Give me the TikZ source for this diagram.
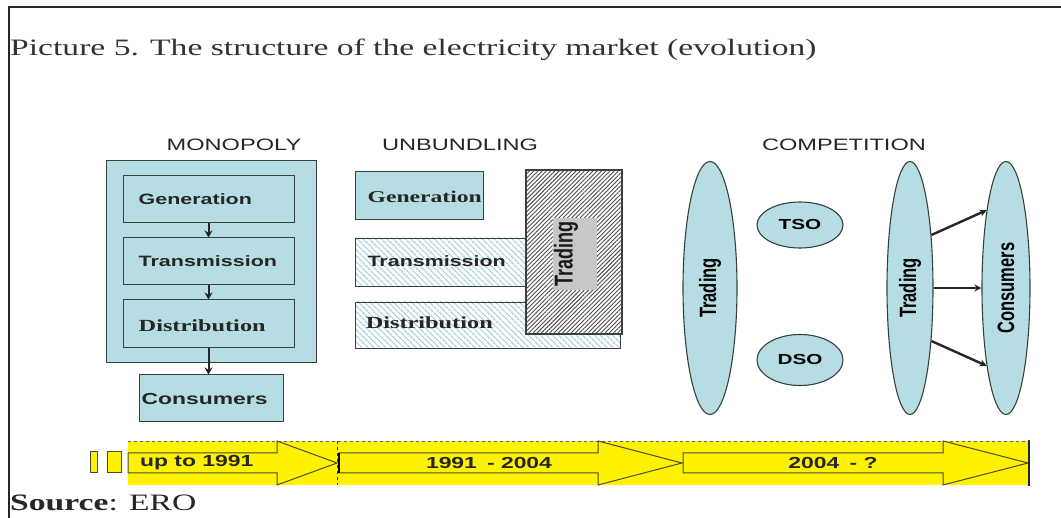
\documentclass[tikz,border=0pt]{standalone}
\usepackage{fontspec}
\setmainfont{Liberation Serif}
\newfontfamily\lsans{Liberation Sans}
\usetikzlibrary{shapes.geometric,arrows.meta,patterns.meta}
\newcommand\hs[1]{\scalebox{1.43}[1]{#1}}
\newcommand\fsz[1]{\fontsize{#1}{#1}\selectfont}
\definecolor{boxblue}{RGB}{182,221,227}
\definecolor{edgec}{RGB}{55,65,65}
\definecolor{hatchblue}{RGB}{165,208,220}
\definecolor{tline}{RGB}{75,75,45}
\tikzset{
  bx/.style={draw=edgec, line width=1pt, fill=boxblue, inner sep=0pt},
  hbx/.style={draw=edgec, line width=0.8pt, inner sep=0pt, preaction={fill=white},
     pattern={Lines[angle=-45,distance=4pt,line width=1.3pt]}, pattern color=hatchblue},
  tbx/.style={draw=edgec, line width=1.2pt, inner sep=0pt, preaction={fill=white},
     pattern={Lines[angle=45,distance=3pt,line width=0.9pt]}, pattern color=black!70},
  ell/.style={ellipse, draw=edgec, line width=1.1pt, fill=boxblue, inner sep=0pt},
  lab/.style={inner sep=0pt, text=black!85},
  head/.style={inner sep=0pt, text=black!85, font=\lsans\fsz{16.5}},
  arr/.style={draw=black!85, line width=2pt, -{Stealth[length=7pt,width=8pt]}},
  carr/.style={draw=black!85, line width=2.4pt, -{Stealth[length=7pt,width=7pt]}},
  marr/.style={draw=black!85, line width=1.4pt, -{Stealth[length=7pt,width=7pt]}},
  tarrow/.style={draw=tline, line width=1pt, fill=yellow, line join=miter},
}
\begin{document}
\begin{tikzpicture}[x=1pt,y=-1pt]
\useasboundingbox (0,0) rectangle (1061,518);
\fill[white] (0,0) rectangle (1061,518);
% frame
\draw[line width=2pt, black!85] (9,518) -- (9,7) -- (1061,7);
% title and source
\node[anchor=base west, inner sep=0pt, text=black!80] (title) at (10,56)
  {\hs{\fsz{23.5}Picture 5. The structure of the electricity market (evolution)}};
\node[anchor=base west, inner sep=0pt, text=black!85] (source) at (10,511)
  {\hs{\fsz{23.5}\textbf{Source}: ERO}};

% headings
\node[head] (hmono) at (234,145) {\hs{MONOPOLY}};
\node[head] (hunb) at (460,145) {\hs{UNBUNDLING}};
\node[head] (hcomp) at (844,145) {\hs{COMPETITION}};

% ---------------- MONOPOLY
\node[bx, minimum width=210pt, minimum height=202pt] (mono) at (211,262) {};
\node[bx, minimum width=171pt, minimum height=47pt] (mgen) at (208.5,199.5) {};
\node[bx, minimum width=171pt, minimum height=47pt] (mtra) at (208.5,261.5) {};
\node[bx, minimum width=171pt, minimum height=48pt] (mdis) at (208.5,324) {};
\node[bx, minimum width=144pt, minimum height=47pt] (mcon) at (211,398.5) {};
\node[lab, anchor=west] (mgenT) at ([xshift=16pt]mgen.west) {\hs{\lsans\bfseries\fsz{15}Generation}};
\node[lab, anchor=west] (mtraT) at ([xshift=16pt]mtra.west) {\hs{\lsans\bfseries\fsz{15}Transmission}};
\node[lab, anchor=west] (mdisT) at ([xshift=16pt, yshift=-2pt]mdis.west) {\hs{\bfseries\fsz{17}Distribution}};
\node[lab, anchor=west] (mconT) at ([xshift=3pt]mcon.west) {\hs{\lsans\bfseries\fsz{16}Consumers}};
\draw[arr] (mgen.south) -- (mtra.north);
\draw[arr] (mtra.south) -- (mdis.north);
\draw[arr] (mdis.south) -- (mdis.south |- mcon.north);

% ---------------- UNBUNDLING
\node[bx, minimum width=128pt, minimum height=48pt] (ugen) at (419,196) {};
\node[hbx, minimum width=190pt, minimum height=48pt] (utra) at (450,262) {};
\node[hbx, minimum width=265pt, minimum height=46pt] (udis) at (487.5,325) {};
\node[tbx, minimum width=96pt, minimum height=164pt] (utrad) at (574,252) {};
\node[fill=black!22, inner sep=0pt, minimum width=44pt, minimum height=72pt] (utradbg) at (575,254) {};
\node[lab, text=black!90] (utradT) at (566,254) {\hs{\rotatebox{90}{\lsans\bfseries\fsz{18}Trading}}};
\node[lab, anchor=west] (ugenT) at ([xshift=13pt, yshift=-1pt]ugen.west) {\hs{\bfseries\fsz{16.5}Generation}};
\node[lab, anchor=west] (utraT) at ([xshift=13pt, yshift=1pt]utra.west) {\hs{\lsans\bfseries\fsz{15}Transmission}};
\node[lab, anchor=west] (udisT) at ([xshift=11pt, yshift=2pt]udis.west) {\hs{\bfseries\fsz{17}Distribution}};

% ---------------- COMPETITION
\node[ell, minimum width=54pt, minimum height=253pt] (ctl) at (710,288)
  {\hs{\rotatebox{90}{\lsans\bfseries\fsz{16.5}Trading}}};
\node[ell, minimum width=86pt, minimum height=46pt] (tso) at (800,225)
  {\hs{\lsans\bfseries\fsz{14.5}TSO}};
\node[ell, minimum width=86pt, minimum height=51pt] (dso) at (800,360)
  {\hs{\lsans\bfseries\fsz{14.5}DSO}};
\node[ell, minimum width=46pt, minimum height=253pt] (ctr) at (910,288)
  {\hs{\rotatebox{90}{\lsans\bfseries\fsz{16.5}Trading}}};
\node[ell, minimum width=48pt, minimum height=253pt] (ccon) at (1006,288)
  {\hs{\rotatebox{90}{\lsans\bfseries\fsz{16.5}Consumers}}};
\draw[carr] (ctr.68) -- (ccon.104);
\draw[marr] (ctr.east) -- (ccon.west);
\draw[carr] (ctr.-68) -- (ccon.-104);

% ---------------- TIMELINE
\fill[yellow] (128,441) rectangle (1030,485);
\draw[dashed, black!60, line width=0.6pt] (128,441) -- (1030,441);
\draw[dashed, black!80, line width=0.8pt] (337,441) -- (337,485);
\draw[tarrow] (90,452) rectangle (97,473);
\draw[tarrow] (107,452) rectangle (121,473);
\draw[tarrow] (128,453) -- (277,453) -- (277,441) -- (337,463) -- (277,485) -- (277,473) -- (128,473) -- cycle;
\draw[tarrow] (339,453) -- (598,453) -- (598,441) -- (682,463) -- (598,485) -- (598,473) -- (339,473) -- cycle;
\draw[black, line width=1.6pt] (339,453) -- (339,473);
\draw[tarrow] (683,453) -- (943,453) -- (943,441) -- (1028,463) -- (943,485) -- (943,473) -- (683,473) -- cycle;
\draw[black!85, line width=1.6pt] (1029,440) -- (1029,486);
\node[lab, anchor=west] (t1) at (140,463) {\hs{\lsans\bfseries\fsz{16}up to 1991}};
\node[lab] (t2) at (489,463) {\hs{\lsans\bfseries\fsz{16}1991 \,- 2004}};
\node[lab] (t3) at (833,463) {\hs{\lsans\bfseries\fsz{16}2004 \,- ?}};
\end{tikzpicture}
\end{document}
